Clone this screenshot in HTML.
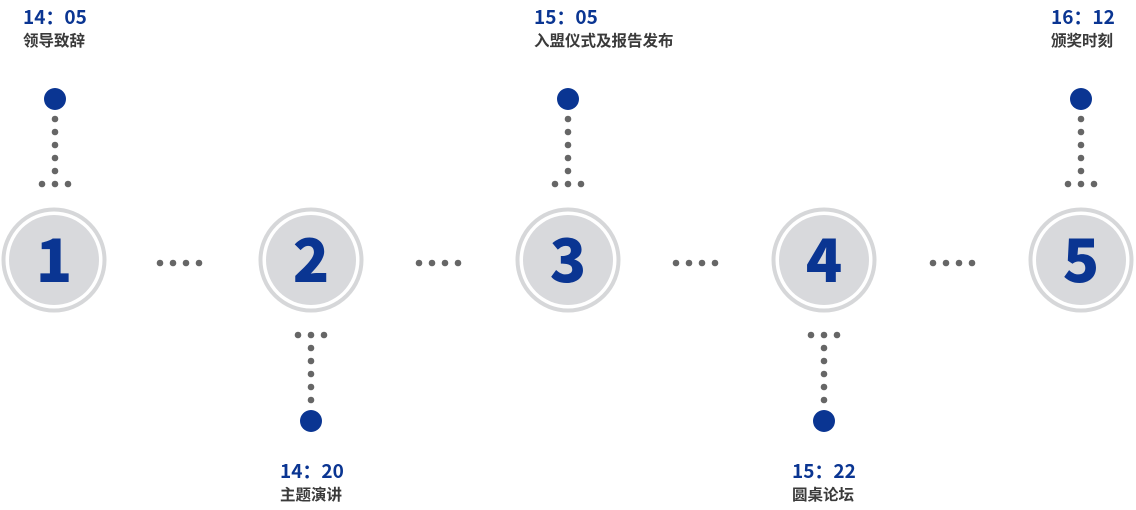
<!DOCTYPE html>
<html><head><meta charset="utf-8"><style>
html,body{margin:0;padding:0;background:#fff;width:1136px;height:510px;overflow:hidden}
svg{display:block}
.t{font-family:"Noto Sans CJK SC","Liberation Sans",sans-serif;font-weight:bold;fill:#0a3592;font-size:19px}
.l{font-family:"Noto Sans CJK SC","Liberation Sans",sans-serif;font-weight:bold;fill:#3a3a3a;font-size:15.5px}
.n{font-family:"Noto Sans CJK SC","Liberation Sans",sans-serif;font-weight:900;fill:#0a3592;font-size:60px}
</style></head><body>
<svg width="1136" height="510" viewBox="0 0 1136 510" xmlns="http://www.w3.org/2000/svg">
<defs>
<g id="c"><circle r="50.5" fill="#fff" stroke="#d6d7d9" stroke-width="4"/><circle r="45" fill="#d8d9dc"/></g>
<g id="top" fill="#666">
<circle cx="0" cy="99" r="11" fill="#0a3592"/>
<circle cx="0" cy="119" r="3.3"/><circle cx="0" cy="132" r="3.3"/><circle cx="0" cy="145" r="3.3"/><circle cx="0" cy="158" r="3.3"/><circle cx="0" cy="171" r="3.3"/>
<circle cx="-13" cy="184" r="3.3"/><circle cx="0" cy="184" r="3.3"/><circle cx="13" cy="184" r="3.3"/>
</g>
<g id="bot" fill="#666">
<circle cx="-13" cy="335" r="3.3"/><circle cx="0" cy="335" r="3.3"/><circle cx="13" cy="335" r="3.3"/>
<circle cx="0" cy="348" r="3.3"/><circle cx="0" cy="361" r="3.3"/><circle cx="0" cy="374" r="3.3"/><circle cx="0" cy="387" r="3.3"/><circle cx="0" cy="400" r="3.3"/>
<circle cx="0" cy="421" r="11" fill="#0a3592"/>
</g>
<g id="h" fill="#666"><circle cx="0" cy="263" r="3.3"/><circle cx="13" cy="263" r="3.3"/><circle cx="26" cy="263" r="3.3"/><circle cx="39" cy="263" r="3.3"/></g>
</defs>
<use href="#c" x="54" y="260"/><use href="#c" x="311" y="260"/><use href="#c" x="568" y="260"/><use href="#c" x="824" y="260"/><use href="#c" x="1081" y="260"/>
<text class="n" x="54" y="282" text-anchor="middle">1</text>
<text class="n" x="311" y="282" text-anchor="middle">2</text>
<text class="n" x="568" y="282" text-anchor="middle">3</text>
<text class="n" x="824" y="282" text-anchor="middle">4</text>
<text class="n" x="1081" y="282" text-anchor="middle">5</text>
<use href="#h" x="160"/><use href="#h" x="419"/><use href="#h" x="676"/><use href="#h" x="933"/>
<use href="#top" x="55"/><use href="#top" x="568"/><use href="#top" x="1081"/>
<use href="#bot" x="311"/><use href="#bot" x="824"/>
<text class="t" x="23" y="24">14：05</text><text class="l" x="23" y="46">领导致辞</text>
<text class="t" x="534" y="24">15：05</text><text class="l" x="534" y="46">入盟仪式及报告发布</text>
<text class="t" x="1051" y="24">16：12</text><text class="l" x="1051" y="46">颁奖时刻</text>
<text class="t" x="280" y="478">14：20</text><text class="l" x="280" y="500">主题演讲</text>
<text class="t" x="792" y="478">15：22</text><text class="l" x="792" y="500">圆桌论坛</text>
</svg>
</body></html>
